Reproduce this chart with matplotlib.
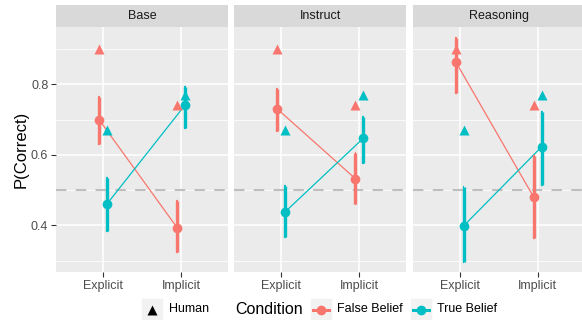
import numpy as np
import matplotlib
matplotlib.use('Agg')
import matplotlib.pyplot as plt
from matplotlib.patches import Rectangle
from matplotlib.lines import Line2D

plt.rcParams['font.family'] = ['Liberation Sans', 'DejaVu Sans']

# Model accuracy per prompting condition (facets), task type on x axis
panels = ['Base', 'Instruct', 'Reasoning']
tasks = ['Explicit', 'Implicit']

fb_mean = [[0.700, 0.393], [0.730, 0.532], [0.864, 0.479]]
fb_lo = [[0.630, 0.323], [0.667, 0.460], [0.774, 0.364]]
fb_hi = [[0.765, 0.470], [0.786, 0.604], [0.930, 0.597]]

tb_mean = [[0.460, 0.741], [0.438, 0.647], [0.398, 0.623]]
tb_lo = [[0.385, 0.675], [0.366, 0.576], [0.297, 0.514]]
tb_hi = [[0.535, 0.793], [0.511, 0.708], [0.508, 0.722]]

# Human reference accuracies (same in each facet)
human_fb = [0.90, 0.74]
human_tb = [0.67, 0.77]

FB_COL = '#F8766D'
TB_COL = '#00BFC4'
W, H = 582, 320

fig = plt.figure(figsize=(W / 100, H / 100), dpi=100)


def fx(px):
    return px / W


def fy(py):
    return 1 - py / H


panel_left = [56, 234.3, 412.7]
panel_w = 172
top, bottom = 27.3, 272.3
strip_top = 5

x = np.arange(1, len(tasks) + 1)
dodge = 0.05

for i, name in enumerate(panels):
    ax = fig.add_axes([fx(panel_left[i]), fy(bottom), fx(panel_w), (bottom - top) / H])
    ax.set_facecolor('#EBEBEB')
    ax.set_xlim(0.4, 2.6)
    ax.set_ylim(0.2667, 0.9617)
    for s in ax.spines.values():
        s.set_visible(False)

    for yv in [0.3, 0.5, 0.7, 0.9]:
        ax.axhline(yv, color='white', lw=0.55, zorder=0.5)
    for yv in [0.4, 0.6, 0.8]:
        ax.axhline(yv, color='white', lw=1.1, zorder=0.6)
    for xv in x:
        ax.axvline(xv, color='white', lw=1.1, zorder=0.6)

    ax.axhline(0.5, color='#BEBEBE', lw=1.5, dashes=(5, 4.5), zorder=1)

    for mean, lo, hi, col, off in [(fb_mean[i], fb_lo[i], fb_hi[i], FB_COL, -dodge),
                                   (tb_mean[i], tb_lo[i], tb_hi[i], TB_COL, dodge)]:
        xs = x + off
        ax.plot(xs, mean, color=col, lw=0.9, zorder=2)
        ax.vlines(xs, lo, hi, color=col, lw=2.4, zorder=3)
        ax.hlines(lo, xs - 0.012, xs + 0.012, color=col, lw=1.6, zorder=3)
        ax.hlines(hi, xs - 0.012, xs + 0.012, color=col, lw=1.6, zorder=3)
        ax.plot(xs, mean, 'o', color=col, ms=7, mec='none', zorder=4)

    ax.plot(x - dodge, human_fb, '^', color=FB_COL, ms=7.5, mec='none', zorder=4)
    ax.plot(x + dodge, human_tb, '^', color=TB_COL, ms=7.5, mec='none', zorder=4)

    ax.set_xticks(x)
    ax.set_xticklabels(tasks)
    ax.set_yticks([0.4, 0.6, 0.8])
    ax.tick_params(axis='both', length=3.5, width=0.8, color='#333333',
                   labelcolor='#4D4D4D', labelsize=9, pad=2)
    if i == 0:
        ax.set_yticklabels(['0.4', '0.6', '0.8'])
        ax.set_ylabel('P(Correct)', fontsize=12, color='black', labelpad=1.5)
    else:
        ax.set_yticklabels([])
        ax.tick_params(axis='y', length=0)

    # facet strip
    sax = fig.add_axes([fx(panel_left[i]), fy(top), fx(panel_w), (top - strip_top) / H])
    sax.set_facecolor('#D9D9D9')
    sax.set_xticks([])
    sax.set_yticks([])
    for s in sax.spines.values():
        s.set_visible(False)
    sax.text(0.5, 0.5, name, ha='center', va='center', fontsize=9, color='#1A1A1A',
             transform=sax.transAxes)

# legend along the bottom
ly = 309.5
key_h = 21
fig.patches.append(Rectangle((fx(141.7), fy(ly + key_h / 2)), fx(20), key_h / H,
                             transform=fig.transFigure, color='#F2F2F2', zorder=1))
fig.lines.append(Line2D([fx(151.7)], [fy(ly)], marker='^', color='black', ms=7,
                        mec='none', transform=fig.transFigure, zorder=2))
fig.text(fx(169), fy(ly), 'Human', fontsize=9, va='center', ha='left')
fig.text(fx(235.7), fy(ly), 'Condition', fontsize=11.5, va='center', ha='left')

for kx, col, label, tx in [(310.7, FB_COL, 'False Belief', 337),
                           (411, TB_COL, 'True Belief', 436.7)]:
    fig.patches.append(Rectangle((fx(kx), fy(ly + key_h / 2)), fx(20), key_h / H,
                                 transform=fig.transFigure, color='#F2F2F2', zorder=1))
    fig.lines.append(Line2D([fx(kx + 2), fx(kx + 18)], [fy(ly), fy(ly)], color=col, lw=2.2,
                            transform=fig.transFigure, zorder=2))
    fig.lines.append(Line2D([fx(kx + 10)], [fy(ly)], marker='o', color=col, ms=7,
                            mec='none', transform=fig.transFigure, zorder=3))
    fig.text(fx(tx), fy(ly), label, fontsize=9, va='center', ha='left')

fig.savefig('out.png', dpi=100)
